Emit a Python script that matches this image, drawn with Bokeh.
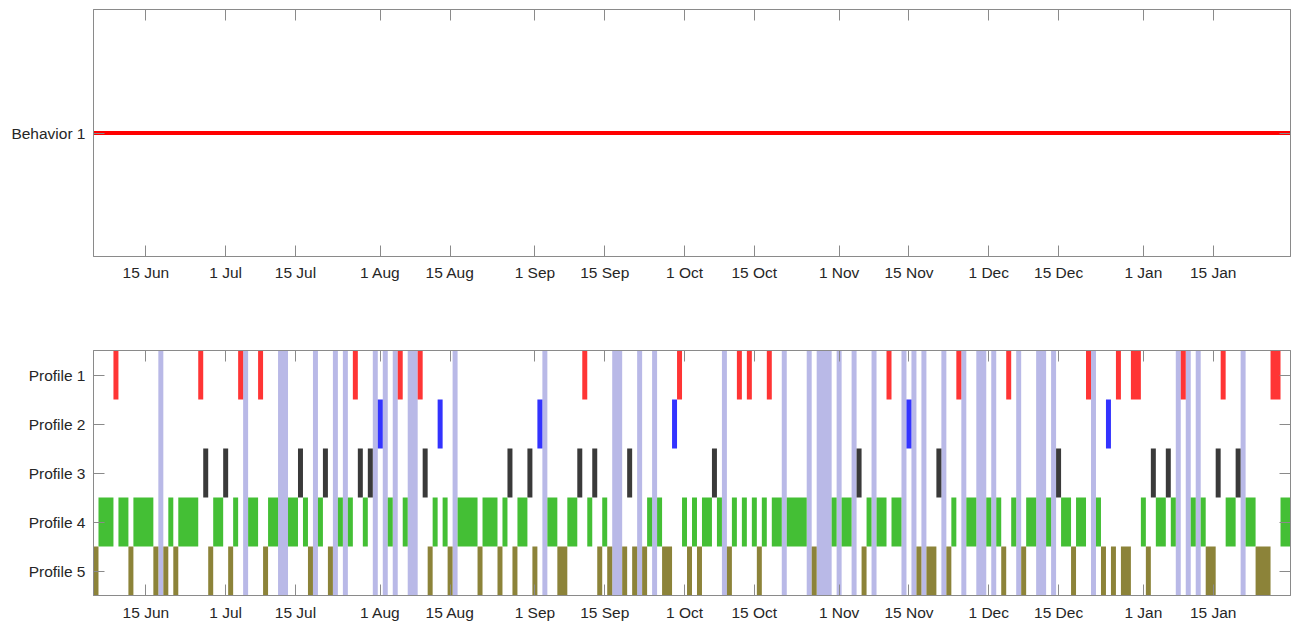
import pandas as pd
from bokeh.plotting import figure
from bokeh.layouts import column
from bokeh.models import Range1d, FixedTicker, LinearAxis, ColumnDataSource
from bokeh.embed import file_html
from bokeh.resources import INLINE

# ---------------- data ----------------
first_day = "2015-06-05"
last_day = "2016-01-30"

tick_dates = ["2015-06-15", "2015-07-01", "2015-07-15", "2015-08-01", "2015-08-15",
              "2015-09-01", "2015-09-15", "2015-10-01", "2015-10-15", "2015-11-01",
              "2015-11-15", "2015-12-01", "2015-12-15", "2016-01-01", "2016-01-15"]
tick_labels = ["15 Jun", "1 Jul", "15 Jul", "1 Aug", "15 Aug", "1 Sep", "15 Sep",
               "1 Oct", "15 Oct", "1 Nov", "15 Nov", "1 Dec", "15 Dec", "1 Jan", "15 Jan"]

behavior_names = ["Behavior 1"]
behavior_from = ["2015-06-05"]
behavior_to = ["2016-01-30"]

profile_names = ["Profile 1", "Profile 2", "Profile 3", "Profile 4", "Profile 5"]

p1_start = ["2015-06-09", "2015-06-26", "2015-07-04", "2015-07-08", "2015-07-27",
            "2015-08-05", "2015-08-09", "2015-09-11", "2015-09-30", "2015-10-12",
            "2015-10-14", "2015-10-18", "2015-11-11", "2015-11-25", "2015-12-05",
            "2015-12-21", "2015-12-27", "2015-12-30", "2016-01-09", "2016-01-17",
            "2016-01-27"]
p1_days = [1, 1, 1, 1, 1, 1, 1, 1, 1, 1, 1, 1, 1, 1, 1, 1, 1, 2, 1, 1, 2]

p2_start = ["2015-08-01", "2015-08-13", "2015-09-02", "2015-09-29", "2015-11-15",
            "2015-12-25"]
p2_days = [1, 1, 1, 1, 1, 1]

p3_start = ["2015-06-27", "2015-07-01", "2015-07-16", "2015-07-21", "2015-07-28",
            "2015-07-30", "2015-08-10", "2015-08-27", "2015-08-31", "2015-09-10",
            "2015-09-13", "2015-09-20", "2015-10-07", "2015-11-05", "2015-11-21",
            "2015-12-15", "2016-01-03", "2016-01-06", "2016-01-16", "2016-01-20"]
p3_days = [1, 1, 1, 1, 1, 1, 1, 1, 1, 1, 1, 1, 1, 1, 1, 1, 1, 1, 1, 1]

p4_start = ["2015-06-06", "2015-06-10", "2015-06-13", "2015-06-20", "2015-06-22",
            "2015-06-29", "2015-07-03", "2015-07-06", "2015-07-10", "2015-07-14",
            "2015-07-17", "2015-07-20", "2015-07-24", "2015-07-26", "2015-07-29",
            "2015-08-03", "2015-08-06", "2015-08-12", "2015-08-14", "2015-08-17",
            "2015-08-22", "2015-08-26", "2015-08-29", "2015-09-04", "2015-09-08",
            "2015-09-12", "2015-09-15", "2015-09-24", "2015-09-26", "2015-10-01",
            "2015-10-03", "2015-10-05", "2015-10-08", "2015-10-11", "2015-10-13",
            "2015-10-15", "2015-10-17", "2015-10-19", "2015-10-22", "2015-10-31",
            "2015-11-02", "2015-11-07", "2015-11-09", "2015-11-12", "2015-11-24",
            "2015-11-27", "2015-12-01", "2015-12-03", "2015-12-06", "2015-12-09",
            "2015-12-13", "2015-12-16", "2015-12-19", "2015-12-23", "2016-01-01",
            "2016-01-04", "2016-01-07", "2016-01-11", "2016-01-13", "2016-01-18",
            "2016-01-22", "2016-01-29"]
p4_days = [3, 2, 4, 1, 4, 2, 1, 2, 2, 2,
           1, 1, 1, 1, 1, 1, 1, 1, 1, 4,
           3, 1, 2, 2, 2, 1, 1, 1, 1, 1,
           1, 2, 1, 1, 1, 1, 1, 2, 4, 1,
           2, 1, 2, 2, 1, 2, 1, 1, 1, 2,
           1, 2, 2, 1, 1, 2, 1, 1, 1, 2,
           2, 2]

p5_start = ["2015-06-05", "2015-06-12", "2015-06-17", "2015-06-19", "2015-06-21",
            "2015-06-28", "2015-07-02", "2015-07-09", "2015-07-18", "2015-07-22",
            "2015-08-11", "2015-08-15", "2015-08-21", "2015-08-25", "2015-08-28",
            "2015-09-01", "2015-09-06", "2015-09-14", "2015-09-16", "2015-09-19",
            "2015-09-21", "2015-09-23", "2015-09-27", "2015-10-02", "2015-10-04",
            "2015-10-10", "2015-10-16", "2015-10-27", "2015-11-06", "2015-11-17",
            "2015-11-19", "2015-11-23", "2015-12-04", "2015-12-08", "2015-12-18",
            "2015-12-24", "2015-12-26", "2015-12-28", "2016-01-02", "2016-01-14",
            "2016-01-24"]
p5_days = [1, 1, 1, 1, 1, 1, 1, 1, 1, 1,
           1, 1, 1, 1, 1, 1, 2, 1, 1, 1,
           1, 1, 2, 1, 1, 1, 1, 1, 1, 1,
           2, 1, 1, 1, 1, 1, 1, 2, 1, 2,
           3]

gap_start = ["2015-06-18", "2015-07-05", "2015-07-12", "2015-07-19", "2015-07-23",
             "2015-07-25", "2015-07-31", "2015-08-02", "2015-08-04", "2015-08-07",
             "2015-08-16", "2015-09-03", "2015-09-17", "2015-09-22", "2015-09-25",
             "2015-10-09", "2015-10-21", "2015-10-26", "2015-10-28", "2015-11-01",
             "2015-11-04", "2015-11-08", "2015-11-14", "2015-11-16", "2015-11-18",
             "2015-11-22", "2015-11-26", "2015-11-29", "2015-12-02", "2015-12-07",
             "2015-12-11", "2015-12-14", "2015-12-22", "2016-01-08", "2016-01-10",
             "2016-01-12", "2016-01-21"]
gap_days = [1, 1, 2, 1, 1, 1, 1, 1, 1, 2,
            1, 1, 2, 1, 1, 1, 1, 1, 3, 1,
            1, 1, 1, 1, 1, 1, 1, 2, 1, 1,
            2, 1, 1, 1, 1, 1, 1]

profile_starts = [p1_start, p2_start, p3_start, p4_start, p5_start]
profile_lengths = [p1_days, p2_days, p3_days, p4_days, p5_days]

# ---------------- styles ----------------
profile_colors = ["#ff3535", "#3333ff", "#3a3a3a", "#44bf35", "#8c8339"]
gap_color = "#b9b9e7"
frame_color = "#8a8a8a"
text_color = "#262626"
FONT = "Liberation Sans"
FSIZE = "15.5px"
W = 1293


def to_day(dates):
    return ((pd.to_datetime(pd.Series(dates)) - pd.Timestamp(first_day))
            / pd.Timedelta(days=1)).to_numpy()


# bars are centred on their date (one day wide)
x0 = to_day([first_day])[0] - 0.5
x1 = to_day([last_day])[0] + 0.5
tick_x = [int(v) for v in to_day(tick_dates)]


def style_axes(p, yticks, ylabels, xstandoff):
    p.xgrid.visible = False
    p.ygrid.visible = False
    p.outline_line_color = frame_color
    p.outline_line_width = 1
    p.background_fill_color = "white"
    p.border_fill_color = "white"
    for ax, ticks, labels in ((p.xaxis[0], tick_x, tick_labels),
                              (p.yaxis[0], yticks, ylabels)):
        ax.ticker = FixedTicker(ticks=ticks)
        ax.major_label_overrides = {t: l for t, l in zip(ticks, labels)}
        ax.major_tick_in = 11
        ax.major_tick_out = 0
        ax.minor_tick_line_color = None
        ax.axis_line_color = frame_color
        ax.major_tick_line_color = frame_color
        ax.major_label_text_font = FONT
        ax.major_label_text_font_size = FSIZE
        ax.major_label_text_color = text_color
    p.xaxis[0].major_label_standoff = xstandoff
    p.yaxis[0].major_label_standoff = 8
    for loc, ticks in (("above", tick_x), ("right", yticks)):
        ax = LinearAxis(ticker=FixedTicker(ticks=ticks),
                        major_label_overrides={t: "" for t in ticks},
                        major_label_text_font_size="0px",
                        major_label_standoff=0,
                        major_tick_in=11, major_tick_out=0,
                        minor_tick_line_color=None,
                        axis_line_color=frame_color,
                        major_tick_line_color=frame_color)
        p.add_layout(ax, loc)


# ---------------- top panel ----------------
top = figure(width=W, height=308, output_backend="svg", toolbar_location=None,
             x_range=Range1d(x0, x1), y_range=Range1d(0.5, 1.5),
             min_border_left=93, min_border_right=3, min_border_top=9,
             min_border_bottom=52)
bsrc = ColumnDataSource(dict(x0=to_day(behavior_from) - 0.5,
                             x1=to_day(behavior_to) + 0.5,
                             y=[i + 1 for i in range(len(behavior_names))]))
top.segment(x0="x0", x1="x1", y0="y", y1="y", source=bsrc,
            line_color="#ff0000", line_width=4)
style_axes(top, [i + 1 for i in range(len(behavior_names))], behavior_names, 7)

# ---------------- bottom panel ----------------
n = len(profile_names)
bot = figure(width=W, height=315, output_backend="svg", toolbar_location=None,
             x_range=Range1d(x0, x1), y_range=Range1d(n + 0.5, 0.5),
             min_border_left=93, min_border_right=3, min_border_top=42,
             min_border_bottom=28)

gs = to_day(gap_start)
gsrc = ColumnDataSource(dict(left=gs - 0.5, right=gs + pd.Series(gap_days).to_numpy() - 0.5))
bot.quad(left="left", right="right", bottom=n + 0.5, top=0.5, source=gsrc,
         fill_color=gap_color, line_color=None)

for i, (starts, lens) in enumerate(zip(profile_starts, profile_lengths)):
    s = to_day(starts)
    src = ColumnDataSource(dict(left=s - 0.5, right=s + pd.Series(lens).to_numpy() - 0.5))
    bot.quad(left="left", right="right", bottom=i + 0.5, top=i + 1.5, source=src,
             fill_color=profile_colors[i], line_color=None)

style_axes(bot, [i + 1 for i in range(n)], profile_names, 8)

layout = column(top, bot)
open("out.html", "w").write(file_html(layout, INLINE))
